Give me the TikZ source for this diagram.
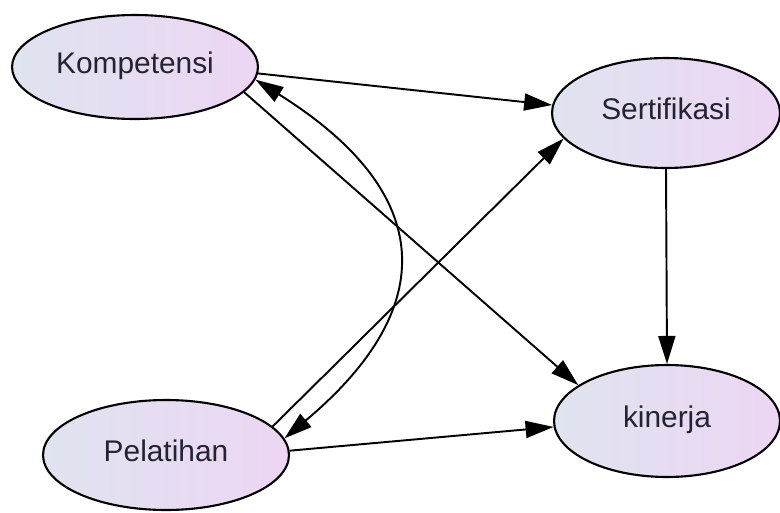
\documentclass[tikz,border=0pt]{standalone}
\usepackage{fontspec}
\setmainfont{Liberation Sans}
\usepackage{tikz}
\usetikzlibrary{shapes.geometric, arrows.meta, positioning}
\definecolor{varleft}{RGB}{224,227,240}
\definecolor{varright}{RGB}{236,214,243}
\definecolor{vartext}{RGB}{35,35,50}

\begin{document}
\begin{tikzpicture}[x=0.02cm,y=0.02cm,
		>={Triangle[length=0.56cm,width=0.34cm]},
		var/.style={ellipse,draw=black,line width=1.2pt,left color=varleft,right color=varright,inner sep=0pt,text=vartext,font=\fontsize{17}{20}\selectfont,text height=0.73em,text depth=0pt},
		link/.style={line width=1.1pt,->}]
				\useasboundingbox (0,0) rectangle (780,512);
				\node[var,minimum width=4.92cm,minimum height=2.08cm] (kom) at (135,445) {Kompetensi};
				\node[var,minimum width=4.56cm,minimum height=2.2cm] (ser) at (666,399) {Sertifikasi};
				\node[var,minimum width=4.92cm,minimum height=2.2cm] (pel) at (166,57) {Pelatihan};
				\node[var,minimum width=4.52cm,minimum height=2.24cm] (kin) at (667,91) {kinerja};
				\draw[link] (kom.-3) -- (ser.176);
				\draw[link] (kom.-13) -- (kin.158);
				\draw[link] (pel.15) -- (ser.-166);
				\draw[link] (pel.2) -- (kin.183);
				\draw[link] (ser.south) -- (kin.north);
				\draw[link,<->] (pel.8) .. controls +(155,130) and +(182,-114) .. (kom.-6);
			\end{tikzpicture}
\end{document}
